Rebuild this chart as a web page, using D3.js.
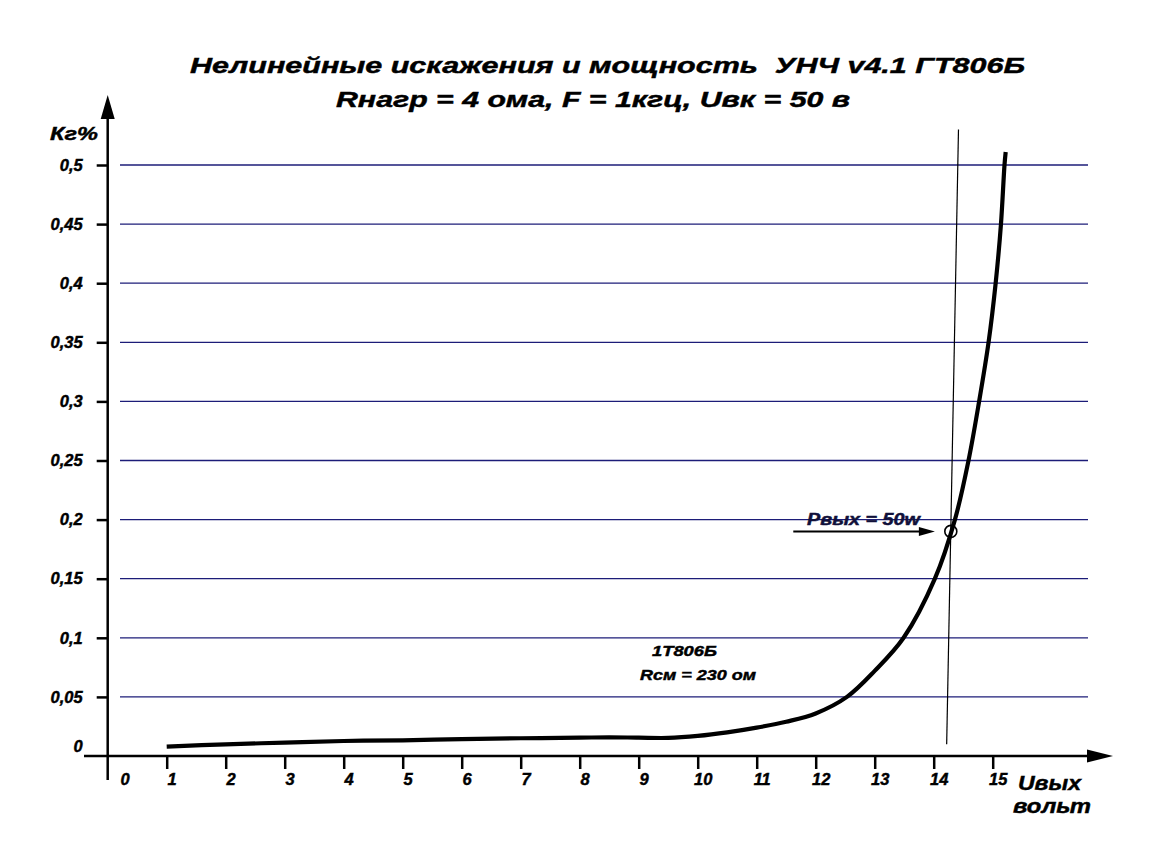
<!DOCTYPE html>
<html>
<head>
<meta charset="utf-8">
<script src="https://cdn.jsdelivr.net/npm/d3@7"></script>
<style>
  body { margin: 0; background: #ffffff; }
  text { font-family: "Liberation Sans", Arial, sans-serif; font-weight: bold; font-style: italic; fill: #000; stroke: #000; stroke-width: 0.45px; white-space: pre; }
</style>
</head>
<body>
<div id="contenedor"></div>
<script>
// DATOS DE LA CURVA (Uвых, Кг%)
const voltios = [1, 2, 3, 4, 5, 6, 7, 8, 8.5, 9, 9.5, 10, 10.5, 11, 11.5, 12, 12.53, 13, 13.49, 14.02, 14.36, 14.59, 14.77, 14.93, 15.05, 15.14, 15.2, 15.22];
const distorsion = [0.0079, 0.0099, 0.0113, 0.0127, 0.0133, 0.0143, 0.015, 0.0155, 0.0158, 0.0155, 0.0153, 0.017, 0.02, 0.024, 0.029, 0.036, 0.05, 0.072, 0.1, 0.15, 0.2, 0.25, 0.3, 0.35, 0.4, 0.45, 0.5, 0.511];
const ticksX = [0, 1, 2, 3, 4, 5, 6, 7, 8, 9, 10, 11, 12, 13, 14, 15];
const ticksY = [0, 0.05, 0.1, 0.15, 0.2, 0.25, 0.3, 0.35, 0.4, 0.45, 0.5];
// PUNTO DE 50 W Y LINEA VERTICAL
const puntoPotencia = [14.29, 0.19];
const flechaPotencia = [11.62, 14.02];
const lineaVertical = [[14.42, 0.53], [14.22, 0.01]];

const ancho = 1161, alto = 867;
const azulRejilla = "#1c1c78";

const x = d3.scaleLinear().domain([0, 15]).range([107.7, 992.7]);
const y = d3.scaleLinear().domain([0, 0.5]).range([756, 165]);

const $svg = d3.select("#contenedor")
  .append("svg")
  .attr("width", ancho)
  .attr("height", alto);

$svg.append("rect").attr("width", ancho).attr("height", alto).attr("fill", "#fff");

// TITULO
$svg.append("text")
  .attr("x", 190).attr("y", 73)
  .attr("font-size", 22)
  .attr("textLength", 835).attr("lengthAdjust", "spacingAndGlyphs")
  .text("Нелинейные искажения и мощность  УНЧ v4.1 ГТ806Б");
$svg.append("text")
  .attr("x", 336).attr("y", 107)
  .attr("font-size", 22)
  .attr("textLength", 514).attr("lengthAdjust", "spacingAndGlyphs")
  .text("Rнагр = 4 ома, F = 1кгц, Uвк = 50 в");

// REJILLA
$svg.append("g")
  .selectAll("line")
  .data(ticksY.filter(d => d > 0))
  .join("line")
  .attr("x1", 120).attr("x2", 1088)
  .attr("y1", d => y(d)).attr("y2", d => y(d))
  .attr("stroke", azulRejilla)
  .attr("stroke-width", 1.3);

// EJE Y
const ejeY = $svg.append("g")
  .attr("transform", `translate(${x(0)},0)`)
  .call(d3.axisLeft(y).tickValues(ticksY).tickSize(11).tickPadding(14)
    .tickFormat(d => String(d).replace(".", ",")));
ejeY.select(".domain").remove();
ejeY.selectAll(".tick line").attr("stroke", "#000").attr("stroke-width", 2.5);
ejeY.selectAll(".tick text").attr("font-size", 16.5).attr("font-family", null);
ejeY.selectAll(".tick").filter(d => d === 0).select("line").remove();
ejeY.selectAll(".tick").filter(d => d === 0).select("text").attr("y", -10);

// EJE X
const ejeX = $svg.append("g")
  .attr("transform", `translate(0,${y(0)})`)
  .call(d3.axisBottom(x).tickValues(ticksX).tickSize(13).tickPadding(4).tickFormat(d => d));
ejeX.select(".domain").remove();
ejeX.selectAll(".tick line").attr("stroke", "#000").attr("stroke-width", 2.5);
ejeX.selectAll(".tick text").attr("font-size", 16.5).attr("font-family", null).attr("x", 5);
ejeX.selectAll(".tick").filter(d => d === 0).select("line").remove();
ejeX.selectAll(".tick").filter(d => d === 0).select("text").attr("x", 17);

// LINEAS DE LOS EJES CON FLECHAS
$svg.append("line")
  .attr("x1", x(0)).attr("x2", x(0))
  .attr("y1", 780).attr("y2", 118)
  .attr("stroke", "#000").attr("stroke-width", 2.5);
$svg.append("path")
  .attr("d", `M${x(0) - 7},119 L${x(0)},95 L${x(0) + 7},119 Z`)
  .attr("fill", "#000");
$svg.append("line")
  .attr("x1", 84).attr("x2", 1088)
  .attr("y1", y(0)).attr("y2", y(0))
  .attr("stroke", "#000").attr("stroke-width", 2.5);
$svg.append("path")
  .attr("d", `M1087,${y(0) - 6.5} L1113,${y(0)} L1087,${y(0) + 6.5} Z`)
  .attr("fill", "#000");

// ETIQUETAS DE LOS EJES
$svg.append("text")
  .attr("x", 50).attr("y", 140)
  .attr("font-size", 19)
  .attr("textLength", 48).attr("lengthAdjust", "spacingAndGlyphs")
  .text("Кг%");
$svg.append("text")
  .attr("x", 1018).attr("y", 790)
  .attr("font-size", 20)
  .attr("textLength", 63).attr("lengthAdjust", "spacingAndGlyphs")
  .text("Uвых");
$svg.append("text")
  .attr("x", 1013).attr("y", 813)
  .attr("font-size", 20)
  .attr("textLength", 78).attr("lengthAdjust", "spacingAndGlyphs")
  .text("вольт");

// LINEA VERTICAL FINA
$svg.append("line")
  .attr("x1", x(lineaVertical[0][0])).attr("y1", y(lineaVertical[0][1]))
  .attr("x2", x(lineaVertical[1][0])).attr("y2", y(lineaVertical[1][1]))
  .attr("stroke", "#000").attr("stroke-width", 1.2);

// CURVA
const puntos = voltios.map((v, i) => [v, distorsion[i]]);
const linea = d3.line()
  .x(d => x(d[0]))
  .y(d => y(d[1]))
  .curve(d3.curveCatmullRom.alpha(0.5));
$svg.append("path")
  .datum(puntos)
  .attr("d", linea)
  .attr("fill", "none")
  .attr("stroke", "#000")
  .attr("stroke-width", 4.2);

// ANOTACION Pвых = 50w
const yFlecha = y(puntoPotencia[1]);
$svg.append("line")
  .attr("x1", x(flechaPotencia[0])).attr("x2", x(flechaPotencia[1]) - 13)
  .attr("y1", yFlecha).attr("y2", yFlecha)
  .attr("stroke", "#000").attr("stroke-width", 2);
$svg.append("path")
  .attr("d", `M${x(flechaPotencia[1]) - 16},${yFlecha - 4.5} L${x(flechaPotencia[1])},${yFlecha} L${x(flechaPotencia[1]) - 16},${yFlecha + 4.5} Z`)
  .attr("fill", "#000");
$svg.append("circle")
  .attr("cx", x(puntoPotencia[0])).attr("cy", yFlecha)
  .attr("r", 6)
  .attr("fill", "none")
  .attr("stroke", "#000").attr("stroke-width", 1.6);
$svg.append("text")
  .attr("x", 807).attr("y", 525)
  .attr("font-size", 16)
  .attr("textLength", 113).attr("lengthAdjust", "spacingAndGlyphs")
  .style("fill", "#10103a").style("stroke", "#10103a")
  .text("Pвых = 50w");

// NOMBRE DEL TRANSISTOR
$svg.append("text")
  .attr("x", 652).attr("y", 656)
  .attr("font-size", 15)
  .attr("textLength", 65).attr("lengthAdjust", "spacingAndGlyphs")
  .text("1T806Б");
$svg.append("text")
  .attr("x", 640).attr("y", 680)
  .attr("font-size", 15)
  .attr("textLength", 116).attr("lengthAdjust", "spacingAndGlyphs")
  .text("Rсм = 230 ом");
</script>
</body>
</html>
